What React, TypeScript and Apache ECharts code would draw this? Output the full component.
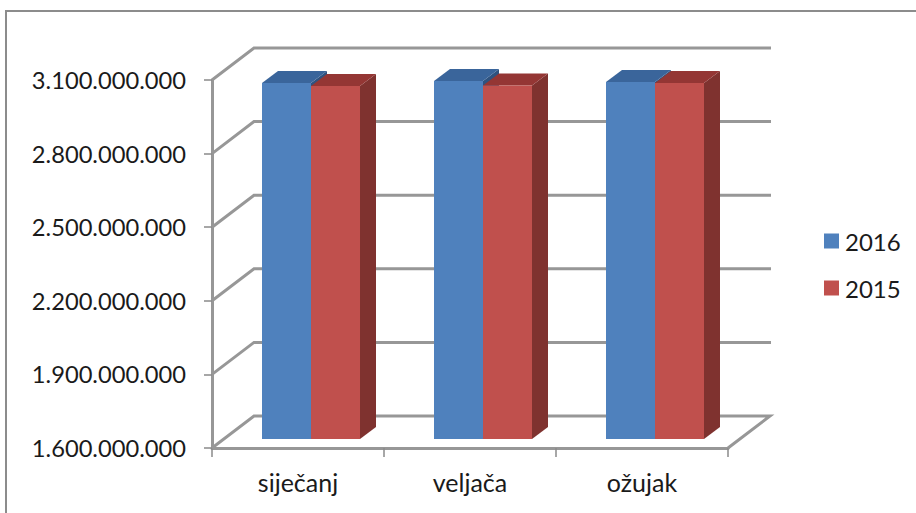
import React, { useEffect, useRef } from "react";
import * as echarts from "echarts";

const categories = ["siječanj", "veljača", "ožujak"];
const values2016 = [3051000000, 3059000000, 3055000000];
const values2015 = [3039000000, 3041000000, 3051000000];
const wallTicks = [1600000000, 1900000000, 2200000000, 2500000000, 2800000000, 3100000000];
const FONT = "Lato";
const GRAY = "#979797";

const formatNumber = (v: number) =>
  String(Math.round(v)).replace(/\B(?=(\d{3})+(?!\d))/g, ".");

const bar3d = (offset: number, front: string, top: string, side: string) =>
  (params: any, api: any) => {
    const idx = api.value(0);
    const val = api.value(1);
    const sx = 13;
    const sy = -9;
    const w = 49;
    const dx = 16;
    const dy = -12;
    const c = api.coord([idx, val]);
    const b = api.coord([idx, 1600000000]);
    const x0 = c[0] + sx + offset;
    const x1 = x0 + w;
    const yt = c[1] + sy;
    const yb = b[1] + sy;
    return {
      type: "group",
      children: [
        { type: "polygon", shape: { points: [[x1, yt], [x1 + dx, yt + dy], [x1 + dx, yb + dy], [x1, yb]] }, style: { fill: side } },
        { type: "polygon", shape: { points: [[x0, yt], [x0 + dx, yt + dy], [x1 + dx, yt + dy], [x1, yt]] }, style: { fill: top } },
        { type: "rect", shape: { x: x0, y: yt, width: w, height: yb - yt }, style: { fill: front } },
      ],
    };
  };

const wallLine = (params: any, api: any) => {
  const val = api.value(0);
  const cs = params.coordSys;
  const y = api.coord([0, val])[1];
  const left = cs.x;
  const right = cs.x + cs.width;
  const dx = 42;
  const dy = -32;
  const bottom = val === wallTicks[0];
  const points = bottom
    ? [[left, y], [left + dx, y + dy], [right + dx, y + dy], [right, y]]
    : [[left, y], [left + dx, y + dy], [right + dx + 1, y + dy]];
  return {
    type: "polyline",
    shape: { points },
    style: { stroke: GRAY, lineWidth: 3, fill: "none" },
  };
};

export default function App() {
  const ref = useRef<HTMLDivElement>(null);
  useEffect(() => {
    const chart = echarts.init(ref.current!, null, { renderer: "svg" });
    chart.setOption({
      animation: false,
      backgroundColor: "#ffffff",
      textStyle: { fontFamily: FONT },
      graphic: [
        {
          type: "rect",
          silent: true,
          shape: { x: 6, y: 11, width: 940, height: 540 },
          style: { fill: "none", stroke: "#8c8c8c", lineWidth: 2 },
        },
      ],
      grid: { left: 212, top: 80, width: 516, height: 368 },
      xAxis: {
        type: "category",
        data: categories,
        boundaryGap: true,
        axisLine: { show: true, lineStyle: { color: GRAY, width: 3 } },
        axisTick: { show: true, alignWithLabel: false, length: 9, lineStyle: { color: "#8a8a8a", width: 1.5 } },
        axisLabel: { color: "#1a1a1a", fontFamily: FONT, fontSize: 25, margin: 21 },
        splitLine: { show: false },
      },
      yAxis: {
        type: "value",
        min: 1600000000,
        max: 3100000000,
        interval: 300000000,
        axisLine: { show: true, lineStyle: { color: GRAY, width: 3 } },
        axisTick: { show: true, length: 8, lineStyle: { color: "#8a8a8a", width: 1.5 } },
        axisLabel: {
          color: "#1a1a1a",
          fontFamily: FONT,
          fontSize: 23.7,
          margin: 26,
          formatter: (v: number) => formatNumber(v),
        },
        splitLine: { show: false },
      },
      legend: {
        show: true,
        orient: "vertical",
        left: 819,
        top: 224,
        itemWidth: 15,
        itemHeight: 15,
        itemGap: 23,
        icon: "rect",
        selectedMode: false,
        textStyle: { color: "#1a1a1a", fontFamily: FONT, fontSize: 24, padding: [0, 0, 0, 1] },
        data: ["2016", "2015"],
      },
      series: [
        {
          type: "custom",
          name: "walls",
          coordinateSystem: "cartesian2d",
          silent: true,
          clip: false,
          renderItem: wallLine,
          encode: { y: 0 },
          data: wallTicks.map((v) => [v]),
        },
        {
          type: "custom",
          name: "2016",
          coordinateSystem: "cartesian2d",
          clip: false,
          itemStyle: { color: "#4F81BD" },
          renderItem: bar3d(-49, "#4F81BD", "#3A659B", "#2F5380"),
          encode: { x: 0, y: 1 },
          data: values2016.map((v, i) => [i, v]),
        },
        {
          type: "custom",
          name: "2015",
          coordinateSystem: "cartesian2d",
          clip: false,
          itemStyle: { color: "#C0504D" },
          renderItem: bar3d(0, "#C0504D", "#943634", "#7F322F"),
          encode: { x: 0, y: 1 },
          data: values2015.map((v, i) => [i, v]),
        },
      ],
    });
    return () => chart.dispose();
  }, []);
  return (
    <div
      ref={ref}
      style={{ position: "absolute", left: 0, top: 0, width: 916, height: 513 }}
    />
  );
}
